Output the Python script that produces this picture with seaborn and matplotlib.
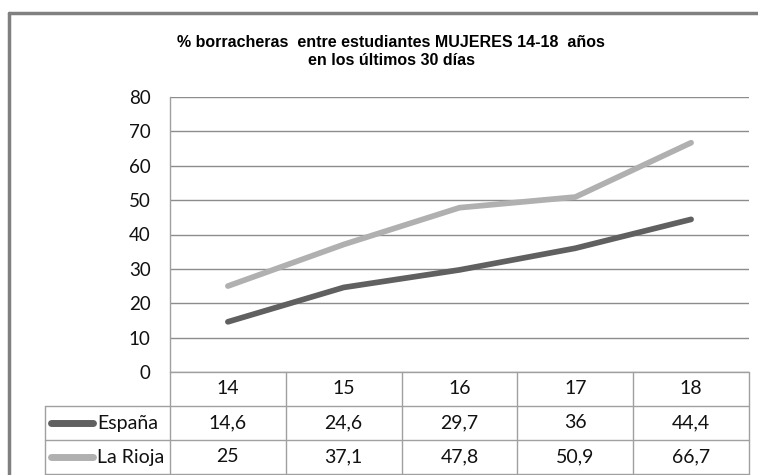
import matplotlib
matplotlib.use("Agg")
import matplotlib.pyplot as plt
import matplotlib.transforms as mtransforms
from matplotlib.lines import Line2D
import pandas as pd
import seaborn as sns

edades = ["14", "15", "16", "17", "18"]
espana = [14.6, 24.6, 29.7, 36, 44.4]
la_rioja = [25, 37.1, 47.8, 50.9, 66.7]
series = ["España", "La Rioja"]
colores = {"España": "#606060", "La Rioja": "#b0b0b0"}

df = pd.DataFrame({
    "edad": list(range(len(edades))) * 2,
    "valor": espana + la_rioja,
    "serie": [series[0]] * len(edades) + [series[1]] * len(edades),
})

sns.set_theme(style="white")
plt.rcParams["font.family"] = ["Lato", "DejaVu Sans"]

fig = plt.figure(figsize=(7.58, 4.75), dpi=100)
ax = fig.add_axes([170 / 758, 1 - 372 / 475, 579 / 758, 275 / 475])

sns.lineplot(data=df, x="edad", y="valor", hue="serie", palette=colores,
             linewidth=4.1, legend=False, ax=ax, solid_capstyle="round")

ax.set_xlim(-0.5, len(edades) - 0.5)
ax.set_ylim(0, 80)
ax.set_yticks(range(0, 81, 10))
ax.set_xticks([])
ax.set_xlabel("")
ax.set_ylabel("")
ax.tick_params(axis="y", length=0, pad=14, labelsize=13.5, labelcolor="#111111")
ax.grid(axis="y", color="#8c8c8c", linewidth=1)
for s in ["top", "right", "bottom"]:
    ax.spines[s].set_visible(False)
ax.spines["left"].set_color("#a0a0a0")
ax.spines["left"].set_linewidth(1)

fig.text(391 / 758, 1 - 51.5 / 475,
         "% borracheras  entre estudiantes MUJERES 14-18  años\nen los últimos 30 días",
         ha="center", va="center", fontsize=11.5, fontweight="bold",
         linespacing=1.3, color="black",
         family=["Liberation Sans", "DejaVu Sans"])

# tabla de datos debajo del eje
tr = mtransforms.blended_transform_factory(ax.transData, ax.transAxes)
row_h = 34 / 275
n = len(edades)
lbl_left = -0.5 - 125 / 116
lc = "#a0a0a0"
kw = dict(transform=tr, color=lc, linewidth=1, clip_on=False)
fs_tabla = 14

# horizontales
ax.add_line(Line2D([-0.5, n - 0.5], [0, 0], **kw))
for k in range(1, 4):
    ax.add_line(Line2D([lbl_left, n - 0.5], [-k * row_h, -k * row_h], **kw))
# verticales
for i in range(n + 1):
    ax.add_line(Line2D([i - 0.5, i - 0.5], [0, -3 * row_h], **kw))
ax.add_line(Line2D([lbl_left, lbl_left], [-row_h, -3 * row_h], **kw))

for i, e in enumerate(edades):
    ax.text(i, -0.5 * row_h, e, transform=tr, ha="center", va="center",
            fontsize=fs_tabla, color="#111111")

for r, (nombre, vals) in enumerate(zip(series, [espana, la_rioja])):
    yc = -(r + 1.5) * row_h
    for i, v in enumerate(vals):
        txt = f"{v:g}".replace(".", ",")
        ax.text(i, yc, txt, transform=tr, ha="center", va="center",
                fontsize=fs_tabla, color="#111111")
    x0 = lbl_left + 3 / 116
    ax.add_line(Line2D([x0 + 3 / 116, x0 + 45 / 116], [yc, yc], transform=tr,
                       color=colores[nombre], linewidth=5,
                       solid_capstyle="round", clip_on=False))
    ax.text(x0 + 49 / 116, yc, nombre, transform=tr, ha="left", va="center",
            fontsize=fs_tabla, color="#111111")

# borde exterior del gráfico
bkw = dict(transform=fig.transFigure, color="#808080", linewidth=2.5)
fig.add_artist(Line2D([9 / 758, 1.0], [1 - 13 / 475, 1 - 13 / 475], **bkw))
fig.add_artist(Line2D([9 / 758, 9 / 758], [0, 1 - 13 / 475], **bkw))

fig.savefig("out.png", dpi=100)
